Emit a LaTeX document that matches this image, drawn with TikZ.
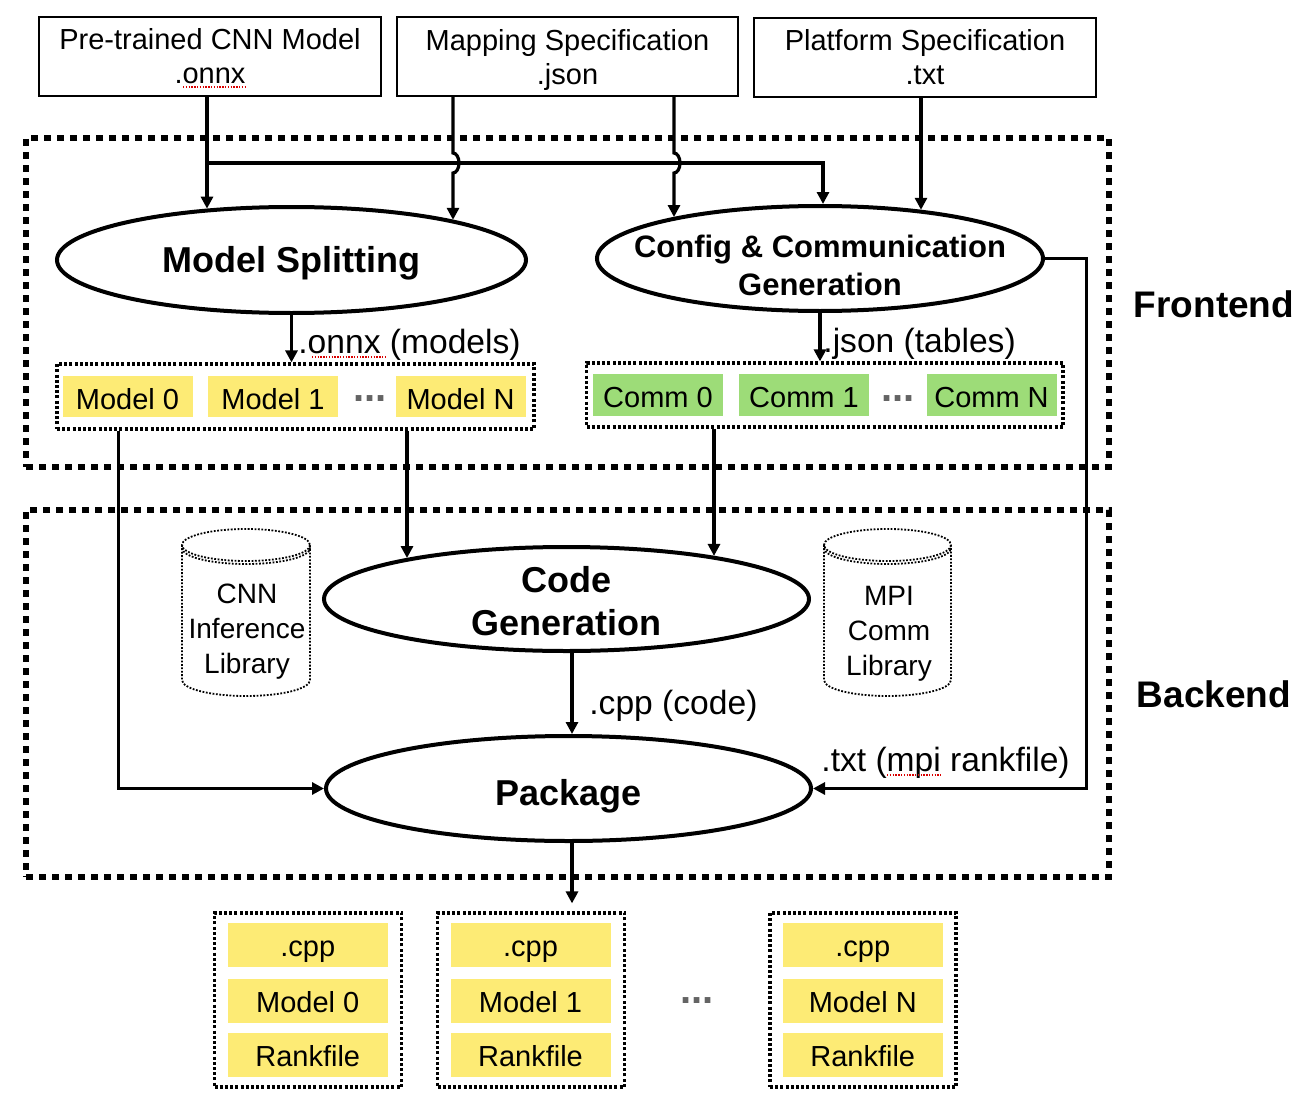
\documentclass[tikz,border=0pt]{standalone}
\usepackage{fontspec}
\setmainfont{Liberation Sans}
\usetikzlibrary{arrows.meta,shapes.geometric,calc}
\definecolor{ylw}{RGB}{253,235,117}
\definecolor{grn}{RGB}{157,220,120}
\definecolor{dotgray}{RGB}{100,100,100}
\newcommand{\fsz}[2]{\fontsize{#1}{#2}\selectfont}
\begin{document}
\begin{tikzpicture}[x=0.5pt,y=-0.5pt,
  inbox/.style={draw, line width=1.2pt, minimum width=171pt, minimum height=39.5pt, inner sep=0pt, align=center, font=\fsz{14.5}{17}},
  ell/.style={ellipse, draw, line width=2pt, inner sep=0pt},
  ttl/.style={font=\bfseries\fsz{18}{21.5}, align=center, inner sep=0pt},
  arr/.style={line width=1.6pt, -{Triangle[length=6pt,width=6pt]}},
  bigdot/.style={draw, line width=3pt, dash pattern=on 3.5pt off 3pt, inner sep=0pt},
  smalldot/.style={draw, line width=1.6pt, dash pattern=on 1.5pt off 1.1pt, inner sep=0pt},
  ybox/.style={fill=ylw, minimum width=65pt, minimum height=20.5pt, inner sep=0pt, text height=13pt, text depth=0pt, font=\fsz{14.5}{17}},
  gbox/.style={fill=grn, minimum width=65pt, minimum height=21pt, inner sep=0pt, text height=12pt, text depth=0pt, font=\fsz{14.5}{17}},
  rowbox/.style={fill=ylw, minimum width=80pt, minimum height=22pt, inner sep=0pt, text height=11pt, text depth=0pt, font=\fsz{14.5}{17}},
  lab/.style={font=\fsz{16.8}{19}, inner sep=0pt, anchor=west},
  sidelab/.style={font=\bfseries\fsz{18.5}{22}, inner sep=0pt},
  cyl/.style={line width=0.9pt, dash pattern=on 0.9pt off 0.8pt},
  cyltext/.style={font=\fsz{14}{17.5}, align=center, inner sep=0pt},
  dotsep/.style={text=dotgray, font=\bfseries\fsz{20}{22}, inner sep=0pt, anchor=base},
  squig/.style={red!85!black, line width=0.7pt, dash pattern=on 0.7pt off 0.7pt}
]
\useasboundingbox (0,0) rectangle (1312,1102);

% frames
\node[bigdot, minimum width=541.5pt, minimum height=164.5pt] (fe) at (567.5,302.5) {};
\node[bigdot, minimum width=541.5pt, minimum height=183.5pt] (be) at (567.5,693.5) {};
\node[sidelab] (fel) at (1214,304) {Frontend};
\node[sidelab] (bel) at (1214,694) {Backend};

% inputs
\node[inbox] (b1) at (210,56.5) {Pre-trained CNN Model\\.onnx};
\node[inbox, minimum width=170.5pt] (b2) at (567.5,56.5) {Mapping Specification\\\raisebox{0pt}[\height][0pt]{.json}};
\node[inbox] (b3) at (925,57.5) {Platform Specification\\.txt};

% ellipses
\node[ell, minimum width=234.5pt, minimum height=53pt] (ms) at (291.5,260) {};
\node[ttl] (mst) at ([yshift=-1.5pt]ms.center) {Model Splitting};
\node[ell, minimum width=223pt, minimum height=52.5pt] (cc) at (820,258.5) {};
\node[ttl, font=\bfseries\fsz{15.5}{19}] (cct) at ([yshift=-3.5pt]cc.center) {Config \& Communication\\Generation};
\node[ell, minimum width=242.5pt, minimum height=52pt] (cg) at (566.5,599) {};
\node[ttl] (cgt) at ([yshift=-1pt]cg.center) {Code\\Generation};
\node[ell, minimum width=242.5pt, minimum height=52.5pt] (pkg) at (568.5,788.5) {};
\node[ttl] (pkgt) at ([yshift=-4pt]pkg.center) {Package};

% model / comm groups
\node[smalldot, minimum width=238.5pt, minimum height=32.5pt] (mbox) at (295.5,396.5) {};
\node[ybox] (m0) at (127.5,396) {Model 0};
\node[ybox] (m1) at (273,396) {Model 1};
\node[dotsep] (md) at (370,401) {...};
\node[ybox] (mN) at (460.5,396.5) {Model N};

\node[smalldot, minimum width=238.25pt, minimum height=32pt] (cbox) at (824.75,395) {};
\node[gbox] (c0) at (658,395) {Comm 0};
\node[gbox] (c1) at (804,395) {Comm 1};
\node[dotsep] (cd) at (898,401) {...};
\node[gbox] (cN) at (991.5,395) {Comm N};

% cylinders
\draw[cyl] (246,545) ellipse[x radius=64, y radius=16];
\draw[cyl] (182,548) arc[start angle=180, end angle=0, x radius=64, y radius=16];
\draw[cyl] (182,545) -- (182,680) arc[start angle=180, end angle=0, x radius=64, y radius=16] -- (310,545);
\node[cyltext] (cnn) at (247,632) {CNN\\Inference\\Library};

\draw[cyl] (887.5,545) ellipse[x radius=63.5, y radius=16];
\draw[cyl] (824,548) arc[start angle=180, end angle=0, x radius=63.5, y radius=16];
\draw[cyl] (824,545) -- (824,680) arc[start angle=180, end angle=0, x radius=63.5, y radius=16] -- (951,545);
\node[cyltext] (mpi) at (889,634) {MPI\\Comm\\Library};

% outputs
\node[smalldot, minimum width=93.5pt, minimum height=87pt] (o1) at (308,1000) {};
\node[rowbox] (o1a) at (307.75,945) {.cpp};
\node[rowbox] (o1b) at (307.75,1001) {Model 0};
\node[rowbox] (o1c) at (307.75,1055) {Rankfile};
\node[smalldot, minimum width=93.5pt, minimum height=87pt] (o2) at (531,1000) {};
\node[rowbox] (o2a) at (530.5,945) {.cpp};
\node[rowbox] (o2b) at (530.5,1001) {Model 1};
\node[rowbox] (o2c) at (530.5,1055) {Rankfile};
\node[dotsep] (od) at (697,1003) {...};
\node[smalldot, minimum width=93pt, minimum height=87pt] (o3) at (863,1000) {};
\node[rowbox] (o3a) at (862.75,945) {.cpp};
\node[rowbox] (o3b) at (862.75,1001) {Model N};
\node[rowbox] (o3c) at (862.75,1055) {Rankfile};

% attachment columns
\coordinate (jy) at (0,163);
\coordinate (xa) at (207,0);
\coordinate (xb) at (453,0);
\coordinate (xc) at (674,0);
\coordinate (xd) at (921,0);
\coordinate (xf) at (823,0);
\coordinate (xe) at (407,0);
\coordinate (xg) at (714,0);
\coordinate (xh) at (572,0);

% connectors
\draw[arr] let \p1=(ms.center),\p2=(xa),\p3=(b1.south) in (\x2,\y3) -- (\x2,{\y1+27.5pt*sqrt(1-((\x2-\x1)/118.25pt)^2)});
\draw[arr] let \p1=(cc.center),\p2=(xf),\p3=(jy),\p4=(xa) in (\x4,\y3) -- (\x2,\y3) -- (\x2,{\y1+27.25pt*sqrt(1-((\x2-\x1)/112.5pt)^2)});
\draw[arr] let \p1=(ms.center),\p2=(xb),\p3=(b2.south),\p4=(jy) in (\x2,\y3) -- (\x2,{\y4+5pt}) arc[start angle=-90, end angle=90, x radius=6, y radius=10] -- (\x2,{\y1+27.5pt*sqrt(1-((\x2-\x1)/118.25pt)^2)});
\draw[arr] let \p1=(cc.center),\p2=(xc),\p3=(b2.south),\p4=(jy) in (\x2,\y3) -- (\x2,{\y4+5pt}) arc[start angle=-90, end angle=90, x radius=6, y radius=10] -- (\x2,{\y1+27.25pt*sqrt(1-((\x2-\x1)/112.5pt)^2)});
\draw[arr] let \p1=(cc.center),\p2=(xd),\p3=(b3.south) in (\x2,\y3) -- (\x2,{\y1+27.25pt*sqrt(1-((\x2-\x1)/112.5pt)^2)});

\draw[arr] (ms.south) -- (ms.south |- mbox.north);
\node[lab] (onl) at (298,345) {.onnx (models)};
\draw[arr] (cc.south) -- (cc.south |- cbox.north);
\node[lab] (jsl) at (823,344) {.json (tables)};

\draw[arr] let \p1=(cg.center),\p2=(xe),\p3=(mbox.south) in (\x2,\y3) -- (\x2,{\y1+27pt*sqrt(1-((\x2-\x1)/122.25pt)^2)});
\draw[arr] let \p1=(cg.center),\p2=(xg),\p3=(cbox.south) in (\x2,\y3) -- (\x2,{\y1+27pt*sqrt(1-((\x2-\x1)/122.25pt)^2)});
\draw[arr] ([xshift=31.5pt]mbox.south west) |- (pkg.west);
\draw[arr] let \p1=(cg.center),\p2=(xh),\p3=(pkg.center) in (\x2,{\y1-27pt*sqrt(1-((\x2-\x1)/122.25pt)^2)}) -- (\x2,{\y3+27.25pt*sqrt(1-((\x2-\x3)/122.25pt)^2)});
\node[lab] (cpl) at (589,706) {.cpp (code)};
\draw[arr] (cc.east) -- ++(41.5,0) |- (pkg.east);
\node[lab] (txl) at (821,763) {.txt (mpi rankfile)};
\draw[arr, shorten >=4pt] let \p1=(pkg.center),\p2=(xh),\p3=(o2.north) in (\x2,{\y1-27.25pt*sqrt(1-((\x2-\x1)/122.25pt)^2)}) -- (\x2,\y3);

% spell-check marks
\draw[squig] (183,87) -- (245,87);
\draw[squig] (312,357) -- (385,357);
\draw[squig] (887,775) -- (941,775);
\end{tikzpicture}
\end{document}
